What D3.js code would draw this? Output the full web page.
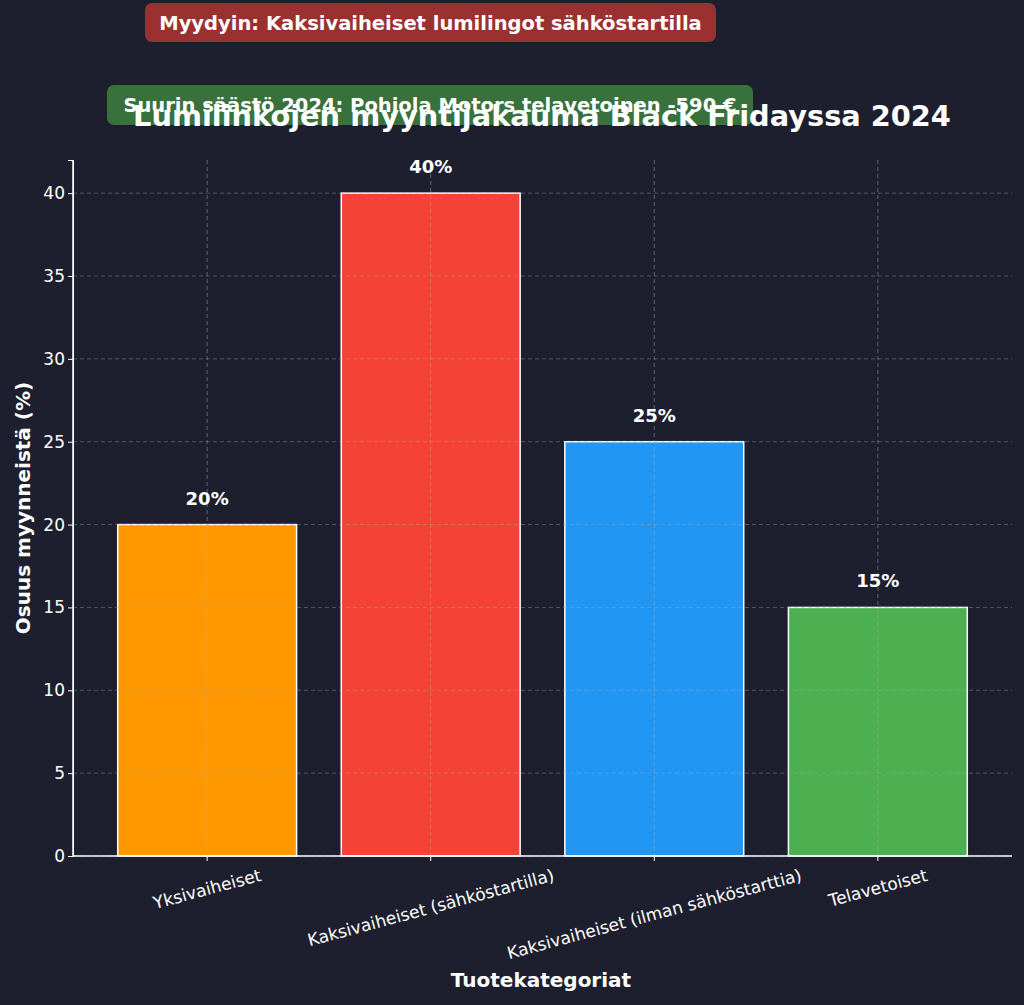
<!DOCTYPE html>
<html><head><meta charset="utf-8">
<script src="https://cdn.jsdelivr.net/npm/d3@7"></script>
<style>body{margin:0;background:#1e1f2e}</style></head>
<body><svg id="c" width="1024" height="1005"></svg>
<script>
const categories=["Yksivaiheiset","Kaksivaiheiset (sähköstartilla)","Kaksivaiheiset (ilman sähköstarttia)","Telavetoiset"];
const values=[20,40,25,15];
const colors=["#ff9800","#f44336","#2196f3","#4caf50"];
const yTicks=[0,5,10,15,20,25,30,35,40];
const svg=d3.select("#c");
const F="DejaVu Sans, sans-serif";
svg.append("rect").attr("width",1024).attr("height",1005).attr("fill","#1e1f2e");
const L=73,R=1012,T=160,B=856;
const x=d3.scaleLinear().domain([-0.6,3.6]).range([L,R]);
const y=d3.scaleLinear().domain([0,42]).range([B,T]);
const g=svg.append("g");
g.selectAll(".b").data(values).join("rect").attr("x",(d,i)=>x(i-0.4)).attr("width",x(0.8)-x(0)).attr("y",d=>y(d)).attr("height",d=>B-y(d)).attr("fill",(d,i)=>colors[i]).attr("stroke","#fff").attr("stroke-width",1.5);
g.selectAll(".gx2").data(categories).join("line").attr("x1",(d,i)=>x(i)).attr("x2",(d,i)=>x(i)).attr("y1",T).attr("y2",B).attr("stroke","#aaa").attr("stroke-dasharray","4,3").attr("stroke-width",0.8).attr("opacity",0.6);
g.selectAll(".gy2").data(yTicks).join("line").attr("x1",L).attr("x2",R).attr("y1",d=>y(d)).attr("y2",d=>y(d)).attr("stroke","#aaa").attr("stroke-dasharray","4,3").attr("stroke-width",0.8).attr("opacity",0.5);
g.selectAll(".vl").data(values).join("text").attr("x",(d,i)=>x(i)).attr("y",d=>y(d)-20).attr("text-anchor","middle").attr("fill","#fff").attr("font-family",F).attr("font-weight","bold").attr("font-size",18).text(d=>d+"%");
const ya=svg.append("g").attr("transform",`translate(${L},0)`).call(d3.axisLeft(y).tickValues(yTicks).tickSize(5));
ya.select(".domain").attr("stroke","#fff");
ya.selectAll("line").attr("stroke","#fff");
ya.selectAll("text").attr("fill","#fff").attr("font-family",F).attr("font-size",17);
svg.append("line").attr("x1",L).attr("x2",R).attr("y1",B).attr("y2",B).attr("stroke","#fff").attr("stroke-width",1.5);
svg.append("line").attr("x1",L).attr("x2",L).attr("y1",T).attr("y2",B).attr("stroke","#fff").attr("stroke-width",1.5);
const s15=Math.sin(15*Math.PI/180),c15=Math.cos(15*Math.PI/180);
categories.forEach((c,i)=>{
  svg.append("line").attr("x1",x(i)).attr("x2",x(i)).attr("y1",B).attr("y2",B+5).attr("stroke","#fff");
  const t=svg.append("text").attr("text-anchor","middle").attr("dy","0.35em").attr("fill","#fff").attr("font-family",F).attr("font-size",17).text(c);
  const w=t.node().getComputedTextLength();
  const cy=B+9+(w*s15+20*c15)/2;
  t.attr("transform",`translate(${x(i)},${cy}) rotate(-15)`);
});
svg.append("text").attr("x",541).attr("y",987).attr("text-anchor","middle").attr("fill","#fff").attr("font-family",F).attr("font-weight","bold").attr("font-size",20).text("Tuotekategoriat");
svg.append("text").attr("transform","translate(30,508) rotate(-90)").attr("text-anchor","middle").attr("fill","#fff").attr("font-family",F).attr("font-weight","bold").attr("font-size",20).text("Osuus myynneistä (%)");
function box(x0,y0,w,h,col,t){
  svg.append("rect").attr("x",x0).attr("y",y0).attr("width",w).attr("height",h).attr("rx",7).attr("fill",col).attr("opacity",0.9);
  svg.append("text").attr("x",x0+w/2).attr("y",y0+h/2+7).attr("text-anchor","middle").attr("fill","#fff").attr("font-family",F).attr("font-weight","bold").attr("font-size",19.5).text(t);
}
box(145,3,571,39,"#a83232","Myydyin: Kaksivaiheiset lumilingot sähköstartilla");
box(107,85,646,40,"#3b7a3e","Suurin säästö 2024: Pohjola Motors telavetoinen -590 €");
svg.append("text").attr("x",542).attr("y",126).attr("text-anchor","middle").attr("fill","#fff").attr("font-family",F).attr("font-weight","bold").attr("font-size",28.8).text("Lumilinkojen myyntijakauma Black Fridayssa 2024");
</script></body></html>
